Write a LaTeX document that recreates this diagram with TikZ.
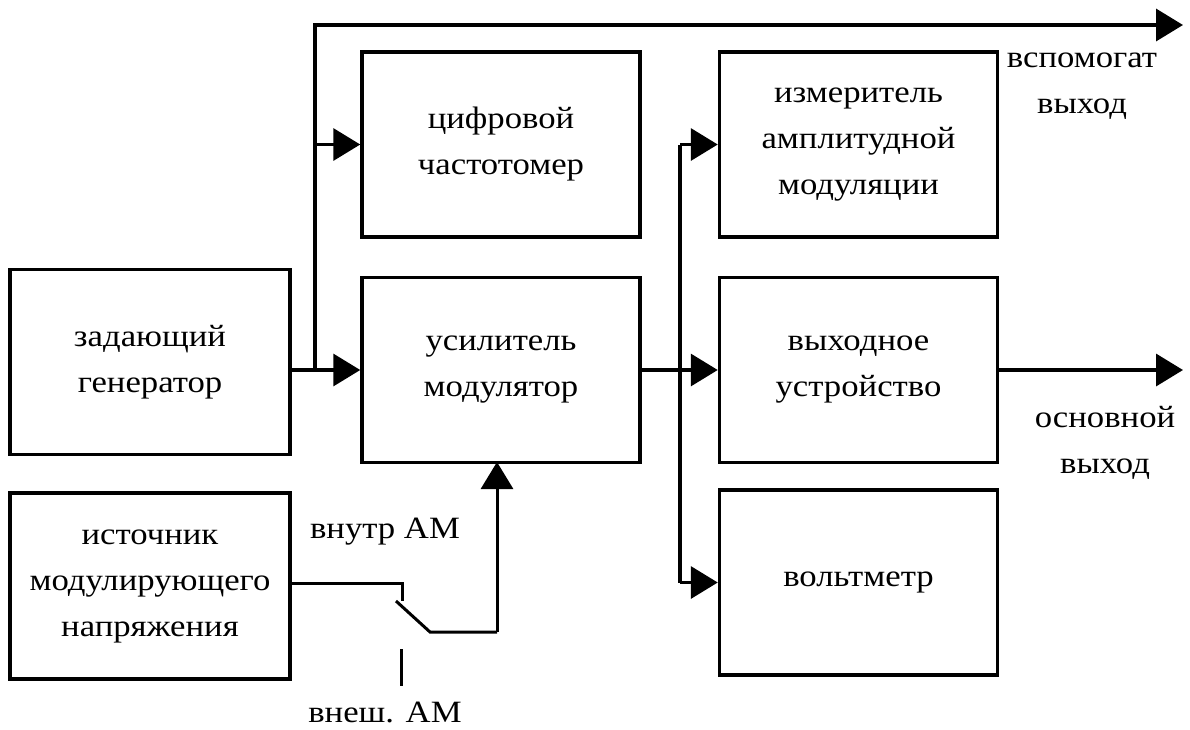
\documentclass[tikz,border=0pt]{standalone}
\usepackage{fontspec}
\setmainfont{Liberation Serif}[FakeStretch=1.12]
\usetikzlibrary{arrows.meta}
\begin{document}
\begin{tikzpicture}[x=1pt,y=-1pt,
  blk/.style={draw,line width=3.5pt,minimum width=278pt,minimum height=185pt,align=center,inner sep=0pt,font=\fontsize{31}{46}\selectfont},
  wire/.style={line width=3.5pt},
  arr/.style={wire,-{Triangle[length=27pt,width=32pt]}},
  lbl/.style={align=center,inner sep=0pt,font=\fontsize{31}{46}\selectfont}]
\useasboundingbox (0,0) rectangle (1190,729);
\node[blk,minimum width=280pt] (gen) at (150,362) {задающий\\генератор};
\node[blk] (freq) at (501,144.5) {цифровой\\частотомер};
\node[blk] (amp) at (501,370) {усилитель\\модулятор};
\node[blk] (meas) at (858.5,144.5) {измеритель\\амплитудной\\модуляции};
\node[blk] (out) at (858.5,370) {выходное\\устройство};
\node[blk] (volt) at (858.5,582.5) {вольтметр};
\node[blk,minimum width=280pt,minimum height=186pt] (src) at (150,586) {источник\\модулирующего\\напряжения};
% left junction
\coordinate (j1) at (315,370);
\coordinate (aux) at (1183,25);
\coordinate (main) at (1183,370);
\draw[arr] (gen.east |- amp.west) -- (amp.west);
\draw[arr] (j1) |- (aux);
\draw[arr] (j1 |- freq.west) -- (freq.west);
% right junction
\coordinate (j2) at (680,370);
\draw[wire] (amp.east) -- (j2);
\draw[wire] (j2 |- meas.west) -- (j2 |- volt.west);
\draw[arr] (j2 |- meas.west) -- (meas.west);
\draw[arr] (j2) -- (out.west);
\draw[arr] (j2 |- volt.west) -- (volt.west);
\draw[arr] (out.east) -- (main);
% switch
\coordinate (s1) at (402,583);
\coordinate (s2) at (402,601);
\coordinate (b1) at (396,601);
\coordinate (b2) at (430,632);
\coordinate (s3) at (497,632);
\coordinate (s4) at (497,462);
\coordinate (e1) at (401,649);
\coordinate (e2) at (401,686);
\draw[wire,line width=3pt] (src.east |- s1) -- (s1) -- (s2);
\draw[wire,line width=3pt] (b1) -- (b2) -- (s3);
\draw[arr,line width=3pt] (s3) -- (s4);
\draw[wire,line width=3pt] (e1) -- (e2);
% labels
\node[lbl] (lin) at (385,532) {внутр АМ};
\node[lbl] (lex) at (385,712) {внеш. АМ};
\node[lbl] (laux) at (1082,86) {вспомогат\\выход};
\node[lbl] (lmain) at (1105,443) {основной\\выход};
\end{tikzpicture}
\end{document}
